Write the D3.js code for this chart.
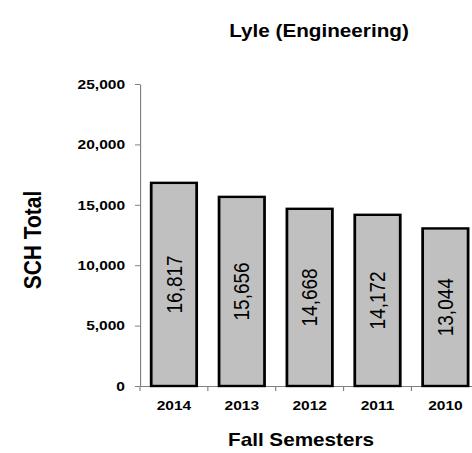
<!doctype html>
<meta charset=utf8>
<title>Lyle (Engineering)</title>
<style>
  html, body {
    margin: 0;
    background: white;
  }

  svg {
    display: block;
    font-family: "Liberation Sans", Arial, sans-serif;
  }

  .axis path,
  .axis line {
    stroke: #808080;
  }

  .axis text {
    font-weight: bold;
    font-size: 13.5px;
    fill: black;
  }
</style>
<svg></svg>
<script src=https://cdn.jsdelivr.net/npm/d3@7></script>
<script>
  var semesters = ['2014', '2013', '2012', '2011', '2010'];
  var schTotals = [16817, 15656, 14668, 14172, 13044];
  var yTicks = [0, 5000, 10000, 15000, 20000, 25000];

  // the picture is a little stretched sideways, so draw in a narrower box and let it stretch
  var stretch = 1.15;
  var pxW = 472;
  var height = 453;
  var width = pxW / stretch;

  var svg = d3.select('svg')
    .attr('width', pxW)
    .attr('height', height)
    .attr('viewBox', [0, 0, width, height].join(' '))
    .attr('preserveAspectRatio', 'none');

  var plotLeft = 140 / stretch;
  var plotRight = 479.3 / stretch;
  var plotTop = 84;
  var plotBottom = 386;

  var x = d3.scaleBand()
    .domain(semesters)
    .range([plotLeft, plotRight])
    .paddingInner(0.33)
    .paddingOuter(0.165);

  var y = d3.scaleLinear()
    .domain([0, 25000])
    .range([plotBottom, plotTop]);

  var yAxis = svg.append('g')
    .attr('class', 'axis')
    .attr('transform', 'translate(' + plotLeft + ',0)')
    .call(d3.axisLeft(y).tickValues(yTicks).tickFormat(d3.format(',')).tickSize(5 / stretch).tickSizeOuter(0));
  yAxis.selectAll('text').attr('x', -15 / stretch);

  var xAxis = svg.append('g')
    .attr('class', 'axis')
    .attr('transform', 'translate(0,' + plotBottom + ')')
    .call(d3.axisBottom(x).tickSize(0).tickSizeOuter(0));
  xAxis.selectAll('text').attr('y', 14).attr('dy', '0.71em');

  // ticks sit between the categories
  var edges = semesters.map(function (d) { return x(d) - x.step() * x.paddingInner() / 2; });
  xAxis.selectAll('line.edge')
    .data(edges)
    .enter()
    .append('line')
    .attr('class', 'edge')
    .attr('x1', function (d) { return d; })
    .attr('x2', function (d) { return d; })
    .attr('y1', 0)
    .attr('y2', 5);

  var bars = svg.append('g')
    .selectAll('g')
    .data(semesters)
    .enter()
    .append('g');

  bars.append('rect')
    .attr('x', function (d) { return x(d); })
    .attr('width', x.bandwidth())
    .attr('y', function (d, i) { return y(schTotals[i]); })
    .attr('height', function (d, i) { return plotBottom - y(schTotals[i]); })
    .attr('fill', '#c0c0c0')
    .attr('stroke', 'black')
    .attr('stroke-width', 2.4);

  bars.append('text')
    .attr('transform', function (d, i) {
      var cx = x(d) + x.bandwidth() / 2;
      var cy = (y(schTotals[i]) + plotBottom) / 2;
      return 'translate(' + cx + ',' + cy + ') rotate(-90)';
    })
    .attr('text-anchor', 'middle')
    .attr('dy', '0.35em')
    .attr('font-size', 19)
    .text(function (d, i) { return d3.format(',')(schTotals[i]); });

  svg.append('text')
    .attr('x', 319 / stretch)
    .attr('y', 37)
    .attr('text-anchor', 'middle')
    .attr('font-weight', 'bold')
    .attr('font-size', 18)
    .text('Lyle (Engineering)');

  svg.append('text')
    .attr('x', 301 / stretch)
    .attr('y', 446)
    .attr('text-anchor', 'middle')
    .attr('font-weight', 'bold')
    .attr('font-size', 18)
    .text('Fall Semesters');

  svg.append('text')
    .attr('transform', 'translate(' + 41 / stretch + ',240) rotate(-90)')
    .attr('text-anchor', 'middle')
    .attr('font-weight', 'bold')
    .attr('font-size', 21)
    .text('SCH Total');
</script>
